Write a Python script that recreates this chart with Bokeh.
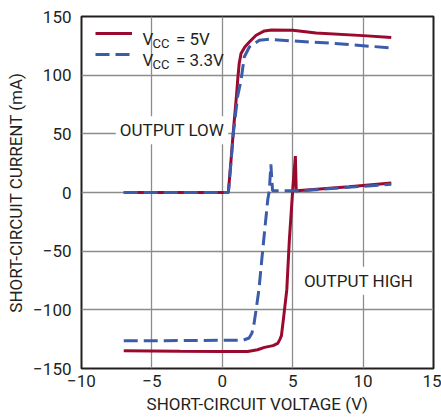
from bokeh.plotting import figure
from bokeh.models import Label, Legend, LegendItem, FixedTicker, Range1d
from bokeh.embed import file_html
from bokeh.resources import INLINE

# ---------------- data ----------------
x_ticks = [-10, -5, 0, 5, 10, 15]
x_tick_labels = ["\u221210", "\u22125", "0", "5", "10", "15"]
y_ticks = [-150, -100, -50, 0, 50, 100, 150]
y_tick_labels = ["\u2212150", "\u2212100", "\u221250", "0", "50", "100", "150"]

# VCC = 5V, output low branch
v5_low_v = [-7, 0.43, 0.62, 0.78, 1.02, 1.09, 1.2, 1.33, 1.6, 1.92, 2.4, 2.99, 3.5, 5.0, 6.66, 10, 12]
v5_low_i = [0, 0, 27.5, 51.6, 84.3, 95.6, 110, 118.4, 124, 128.3, 134, 137.7, 138.5, 138.2, 136, 133.7, 132]
# VCC = 5V, output high branch
v5_high_v = [-7, -3, 0, 1.8, 2.5, 3.0, 3.6, 3.94, 4.1, 4.2, 4.36, 4.58, 4.76, 5.0, 5.19, 5.25, 6, 9, 12]
v5_high_i = [-134.9, -135.3, -135.5, -135.5, -134, -132, -130.5, -128.6, -125, -122, -106, -83, -41, 2, 31, 1.5, 2.2, 5, 8]
# VCC = 3.3V, output low branch
v33_low_v = [-7, 0.43, 0.62, 0.78, 1.09, 1.33, 1.56, 1.92, 2.63, 3.34, 5.0, 8, 12]
v33_low_i = [0, 0, 26, 50, 82, 95.6, 115.5, 124, 129.7, 130.6, 129.2, 127, 123.2]
# VCC = 3.3V, output high branch
v33_high_v = [-7, -3, 0, 1.5, 1.9, 2.1, 2.25, 2.4, 2.6, 2.87, 3.23, 3.34, 3.45, 3.57, 5.5, 8.5, 12]
v33_high_i = [-126.4, -126.2, -126, -125.8, -124, -120, -112, -100, -83, -49, -6, 1.4, 24, 1.4, 1.5, 4, 7]

x_title = "SHORT-CIRCUIT VOLTAGE (V)"
y_title = "SHORT-CIRCUIT CURRENT (mA)"

RED = "#9a0a2e"
BLUE = "#3b5bab"
TXT = "#231f20"
FONT = "Roboto"

p = figure(width=441, height=419, x_range=Range1d(-10, 15), y_range=Range1d(-150, 150),
           output_backend="svg", toolbar_location=None,
           min_border_left=81, min_border_right=8, min_border_top=16, min_border_bottom=51)
p.background_fill_color = "white"
p.border_fill_color = "white"
p.outline_line_color = TXT
p.outline_line_width = 2
p.outline_line_alpha = 1

for ax in (p.xaxis[0], p.yaxis[0]):
    ax.axis_line_color = None
    ax.major_tick_line_color = None
    ax.minor_tick_line_color = None
    ax.major_tick_out = 0
    ax.major_tick_in = 0
    ax.major_label_text_font = FONT
    ax.major_label_text_font_size = "17px"
    ax.major_label_text_color = TXT
    ax.axis_label_text_font = FONT
    ax.axis_label_text_font_size = "17px"
    ax.axis_label_text_font_style = "normal"
    ax.axis_label_text_color = TXT
    ax.axis_label_standoff = 4

p.xaxis.axis_label = x_title
p.yaxis.axis_label = y_title
p.xaxis.ticker = FixedTicker(ticks=x_ticks)
p.yaxis.ticker = FixedTicker(ticks=y_ticks)
p.xaxis.major_label_overrides = dict(zip(x_ticks, x_tick_labels))
p.yaxis.major_label_overrides = dict(zip(y_ticks, y_tick_labels))
p.xaxis.major_label_standoff = 6
p.yaxis.major_label_standoff = 10

p.xgrid.ticker = FixedTicker(ticks=x_ticks)
p.ygrid.ticker = FixedTicker(ticks=y_ticks)
p.grid.grid_line_color = "#8c8c8c"
p.grid.grid_line_width = 1.3

# ---------------- curves ----------------
r5a = p.line(v5_low_v, v5_low_i, line_color=RED, line_width=3)
r5b = p.line(v5_high_v, v5_high_i, line_color=RED, line_width=3)
r3a = p.line(v33_low_v, v33_low_i, line_color=BLUE, line_width=3, line_dash="14 6")
r3b = p.line(v33_high_v, v33_high_i, line_color=BLUE, line_width=3, line_dash="14 6")

# ---------------- legend ----------------
legend = Legend(items=[LegendItem(label=" ", renderers=[r5a]),
                       LegendItem(label=" ", renderers=[r3a])],
                location=(14, 304), glyph_width=37, glyph_height=20, spacing=1,
                padding=0, margin=0, border_line_alpha=0, background_fill_alpha=0,
                label_text_font_size="1px", label_height=20, label_width=1, label_standoff=0)
p.add_layout(legend)

def txt(x, y, s, size="17px", **kw):
    lab = Label(x=x, y=y, text=s, text_font=FONT, text_font_size=size,
                text_color=TXT, **kw)
    p.add_layout(lab)
    return lab

# legend texts with subscript
for base_y, rest in ((131.2, "= 5V"), (113.3, "= 3.3V")):
    txt(-5.66, base_y, "V", text_baseline="alphabetic")
    txt(-4.95, base_y - 4.3, "CC", size="13px", text_baseline="alphabetic")
    txt(-3.29, base_y, rest, text_baseline="alphabetic")

# region annotations
txt(-3.57, 53, "OUTPUT LOW", size="17px", text_align="center", text_baseline="middle",
    background_fill_color="white", padding=4)
txt(9.68, -75.3, "OUTPUT HIGH", size="17px", text_align="center", text_baseline="middle",
    background_fill_color="white", padding=4)

open("out.html", "w").write(file_html(p, INLINE))
